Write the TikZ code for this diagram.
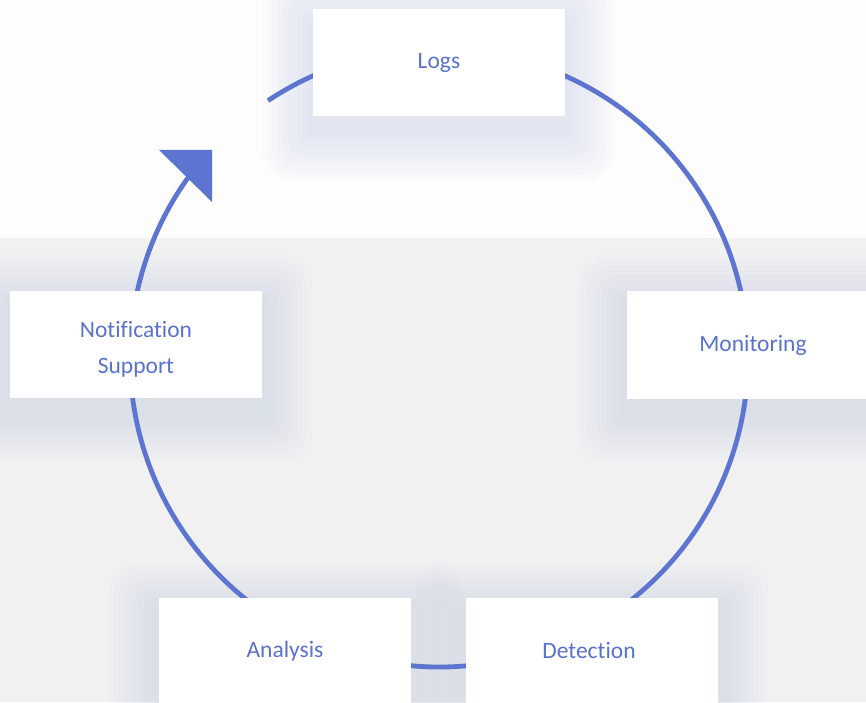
\documentclass[tikz,border=0pt]{standalone}
\usepackage{fontspec}
\setmainfont{Carlito}[Ligatures=NoCommon]
\usetikzlibrary{calc}
\pgfdeclarelayer{background}
\pgfsetlayers{background,main}
\definecolor{txtc}{RGB}{91,114,204}
\definecolor{linec}{RGB}{93,117,208}
\definecolor{bgc}{RGB}{241,241,242}
\definecolor{topc}{RGB}{253,253,254}
\definecolor{shadowc}{RGB}{200,207,232}
\begin{document}
\begin{tikzpicture}[x=1pt,y=1pt,
  stage/.style={fill=white, minimum width=252pt, minimum height=107pt, inner sep=0pt,
    text=txtc, font=\fontsize{23.5}{36}\selectfont, align=center},
  stagetext/.style={inner sep=0pt, text=txtc, font=\fontsize{23.5}{36}\selectfont, align=center},
  cycleline/.style={draw=linec, line width=4.8pt},
  tiphead/.style={fill=linec}]
\clip (0,0) rectangle (866,702);
% nodes
\node[stage] (logs) at (439,639.5) {Logs};
\node[stage] (mon)  at (753,357)   {Monitoring};
\node[stage] (det)  at (592,50.5)  {};
\node[stagetext] (dettxt) at (589,52) {Detection};
\node[stage] (ana)  at (285,50.5)  {Analysis};
\node[stage] (noti) at (136,357.5) {};
\node[stagetext] (notitxt) at (136,353) {Notification\\Support};
\coordinate (ctr) at (439,344);
\coordinate (tipA) at (159,552);
\coordinate (tipB) at (212,552);
\coordinate (tipC) at (212,500);
\begin{pgfonlayer}{background}
  \fill[bgc] (0,0) rectangle (866,702);
  \fill[topc] (0,464) rectangle (866,702);
  \foreach \n in {logs,mon,det,ana,noti}{
    \foreach \i in {1,...,10}{
      \fill[shadowc, opacity=0.055, rounded corners=3*\i]
        ($(\n.south west)+(-5*\i,-14-5*\i)$) rectangle ($(\n.north east)+(5*\i,-14+5*\i)$);
    }
  }
  \draw[cycleline] ($(ctr)+(123.6:309pt)$) arc[start angle=123.6, end angle=-217, radius=309pt];
  \fill[tiphead] (tipA) -- (tipB) -- (tipC) -- cycle;
\end{pgfonlayer}
\end{tikzpicture}
\end{document}
